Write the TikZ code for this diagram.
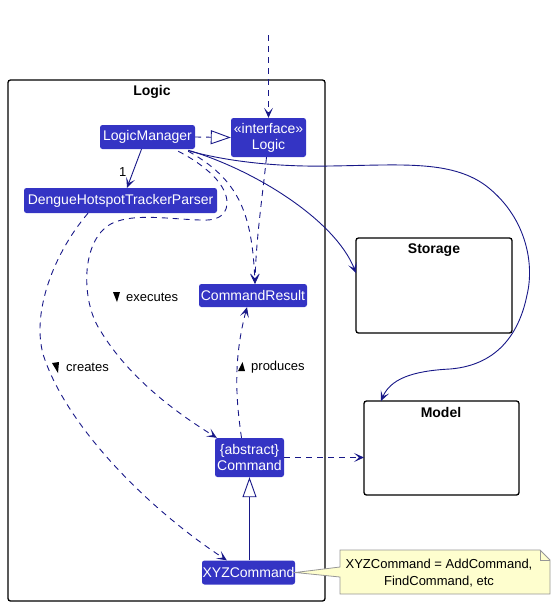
\documentclass[tikz,border=0pt]{standalone}
\usepackage{fontspec}
\setmainfont{Liberation Sans}
\usetikzlibrary{arrows.meta}
\definecolor{nodefill}{RGB}{52,52,196}
\definecolor{linecol}{RGB}{24,24,136}
\definecolor{notefill}{RGB}{254,254,206}
\definecolor{noteline}{RGB}{150,150,150}
\begin{document}
\begin{tikzpicture}[x=1pt,y=-1pt,
  cls/.style={fill=nodefill, draw=none, rounded corners=2.5pt, text=white,
    font=\fontsize{14}{16}\selectfont, inner sep=0pt, align=center},
  pkg/.style={draw=black, line width=1.3pt, rounded corners=2.5pt},
  pkgtitle/.style={font=\fontsize{14}{16}\selectfont\bfseries, inner sep=0pt},
  conn/.style={draw=linecol, line width=0.9pt},
  tip/.style={-{Stealth[length=10pt,width=9pt,inset=5pt]}},
  dep/.style={conn, dash pattern=on 6pt off 5pt, tip},
  assoc/.style={conn, tip},
  lbl/.style={font=\fontsize{13}{15}\selectfont, inner sep=0pt, anchor=west},
  dirmark/.style={fill=black, draw=none},
  realize/.style={conn, -{Triangle[open,length=20pt,width=14pt]}}]
\useasboundingbox (0,0) rectangle (555,606);

% packages
\draw[pkg] (8,80) rectangle (325,601);
\node[pkgtitle] (logictitle) at (152,92) {Logic};
\draw[pkg] (356,238) rectangle (512,333);
\node[pkgtitle] (storagetitle) at (434,250) {Storage};
\draw[pkg] (364,401) rectangle (519,495);
\node[pkgtitle] (modeltitle) at (441,412) {Model};
\coordinate (storage) at (356,273);
\coordinate (model) at (364,458);
\coordinate (modeltop) at (381,401);

% classes
\node[cls, minimum width=95pt, minimum height=24pt] (lm) at (147.5,137) {LogicManager};
\node[cls, minimum width=75pt, minimum height=39pt] (logic) at (268.5,137.5) {«interface»\\Logic};
\node[cls, minimum width=193pt, minimum height=25pt] (parser) at (120.5,200.5) {DengueHotspotTrackerParser};
\node[cls, minimum width=108pt, minimum height=23pt] (cr) at (253,295.5) {CommandResult};
\node[cls, minimum width=69pt, minimum height=39pt] (cmd) at (249.5,457.5) {\{abstract\}\\Command};
\node[cls, minimum width=93pt, minimum height=24pt] (xyz) at (248.5,572.5) {XYZCommand};

% note
\filldraw[fill=notefill, draw=noteline, line width=0.8pt]
  (340,550) -- (540,550) -- (550,560) -- (550,594) -- (340,594) -- (340,577)
  -- (xyz.east) -- (340,567) -- cycle;
\draw[draw=noteline, line width=0.8pt] (540,550) -- (540,560) -- (550,560);
\node[font=\fontsize{13}{17}\selectfont, align=center, inner sep=0pt] (note) at (439,573.5) {XYZCommand = AddCommand,\\FindCommand, etc};

% connectors
\coordinate (top) at (268.5,35);
\draw[dep] (top) -- (logic.north);
\draw[realize, dash pattern=on 6pt off 5pt] (lm.east) -- (logic.west);
\draw[assoc] ([xshift=-6pt]lm.south) -- ([xshift=6.5pt]parser.north);
\node[lbl] (one) at (119,172) {1};

% LogicManager -> Storage
\draw[assoc] ([xshift=-7pt,yshift=-1pt]lm.south east)
  .. controls (255,170) and (335,220) .. (storage);
% LogicManager -> Model
\draw[assoc] ([xshift=-5pt,yshift=-2pt]lm.south east)
  .. controls (230,162) and (280,167) .. (330,166)
  .. controls (400,165) and (450,160) .. (485,185)
  .. controls (525,215) and (535,262) .. (527,295)
  .. controls (520,330) and (500,365) .. (450,369)
  .. controls (410,371) and (390,380) .. (modeltop);

% LogicManager -> CommandResult
\draw[dep] ([xshift=-7pt,yshift=-2pt]lm.south east)
  .. controls (240,180) and (252,215) .. ([xshift=2pt]cr.north);
% Logic -> CommandResult
\draw[dep] ([xshift=-2pt]logic.south)
  .. controls (262,200) and (256,240) .. ([xshift=2pt]cr.north);

% LogicManager -> Command (executes)
\draw[dep] ([xshift=-17pt,yshift=-2pt]lm.south east)
  .. controls (205,165) and (228,185) .. (227,204)
  .. controls (226,217) and (215,221) .. (200,220)
  .. controls (170,219) and (140,214) .. (118,221)
  .. controls (80,232) and (80,300) .. (100,330)
  .. controls (130,380) and (180,415) .. ([xshift=2pt]cmd.north west);
\fill[dirmark] (113,292) -- (120,292) -- (117,302) -- cycle;
\node[lbl] (executes) at (126,297) {executes};

% Parser -> XYZCommand (creates)
\draw[dep] ([xshift=-32.5pt]parser.south)
  .. controls (50,258) and (30,320) .. (45,360)
  .. controls (70,430) and (150,510) .. ([xshift=25pt]xyz.north west);
\fill[dirmark] (52,363) -- (59,362) -- (58,373) -- cycle;
\node[lbl] (creates) at (66,367) {creates};

% Command -> CommandResult (produces)
\draw[dep] ([xshift=-8pt]cmd.north)
  .. controls (236,400) and (233,360) .. ([xshift=-6pt]cr.south);
\fill[dirmark] (238,371) -- (245,371) -- (242.5,362) -- cycle;
\node[lbl] (produces) at (251,367) {produces};

% Command -> Model
\draw[dep] (cmd.east) -- (cmd.east -| model);

% XYZCommand -> Command
\draw[realize] (cmd.south |- xyz.north) -- (cmd.south);
\end{tikzpicture}
\end{document}
